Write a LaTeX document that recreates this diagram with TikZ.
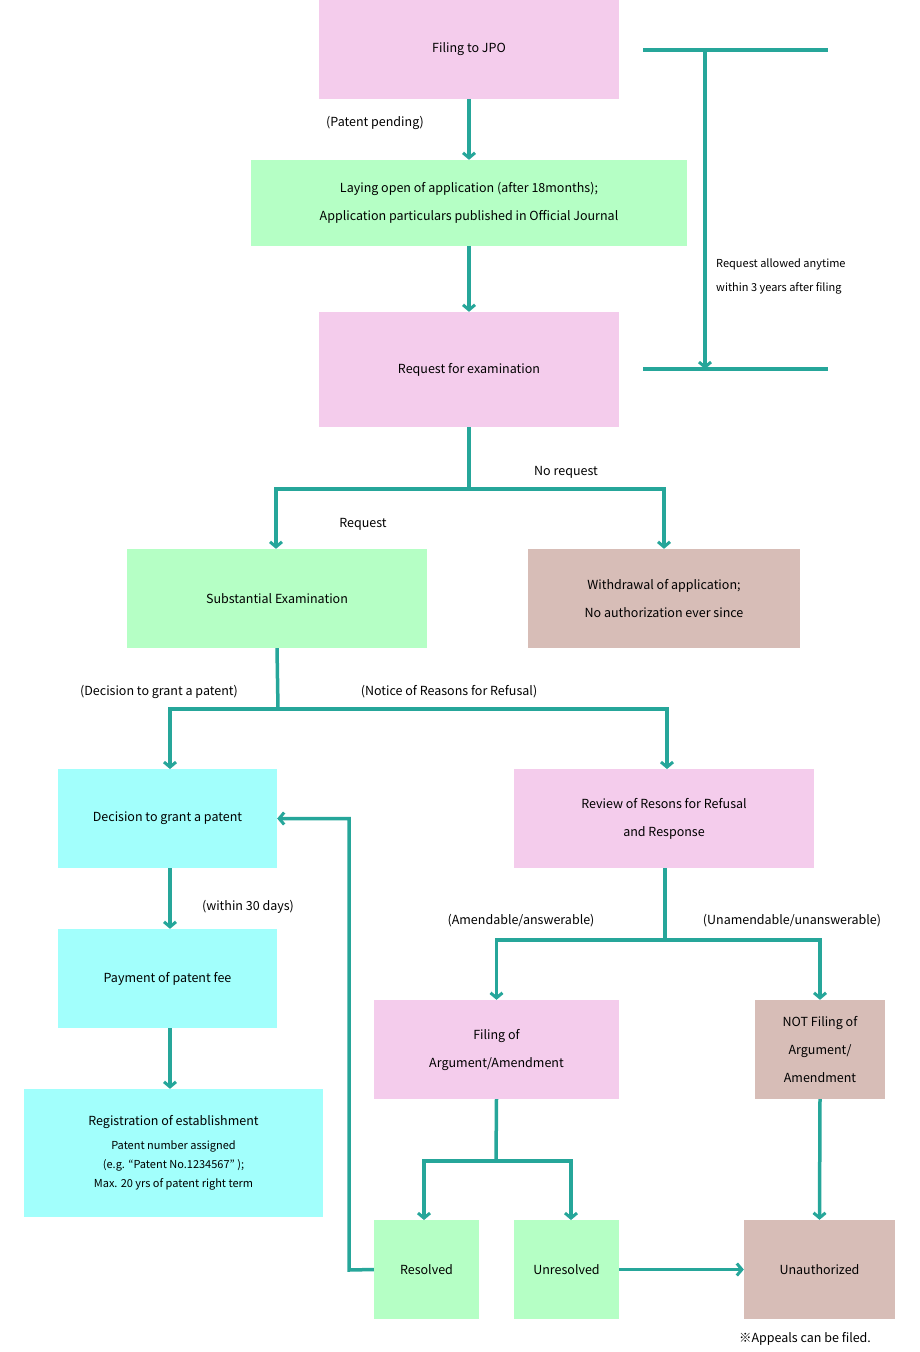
\documentclass[tikz,border=0pt]{standalone}
\usepackage{fontspec}
\setmainfont{Noto Sans CJK JP}
\usetikzlibrary{arrows.meta,positioning}
\definecolor{flowpink}{HTML}{F4CCEC}
\definecolor{flowgreen}{HTML}{B5FFC5}
\definecolor{flowcyan}{HTML}{A2FFFC}
\definecolor{flowbrown}{HTML}{D7BDB7}
\definecolor{flowline}{HTML}{26A69A}
\tikzset{
  box/.style={draw=none,inner sep=0pt,align=center,font=\fontsize{12.5}{28}\selectfont},
  lbl/.style={inner sep=0pt,font=\fontsize{12.5}{16}\selectfont},
  small/.style={inner sep=0pt,align=left,font=\fontsize{11}{24}\selectfont},
  flow/.style={draw=flowline,line width=3.5pt},
  arr/.style={flow,-{Straight Barb[length=5pt,width=12pt,line width=3pt]}}
}
\begin{document}
\begin{tikzpicture}[x=1pt,y=-1pt]
\useasboundingbox (0,0) rectangle (920,1352);

% boxes
\node[box,fill=flowpink,minimum width=300,minimum height=99] (jpo) at (469,49.5) {Filing to JPO};
\node[box,fill=flowgreen,minimum width=436,minimum height=86] (lay) at (469,203) {Laying open of application (after 18months);\\Application particulars published in Official Journal};
\node[box,fill=flowpink,minimum width=300,minimum height=115] (req) at (469,369.5) {Request for examination};
\node[box,fill=flowgreen,minimum width=300,minimum height=99] (sub) at (277,598.5) {Substantial Examination};
\node[box,fill=flowbrown,minimum width=272,minimum height=99] (wd) at (664,598.5) {Withdrawal of application;\\No authorization ever since};
\node[box,fill=flowcyan,minimum width=219,minimum height=99] (dec) at (167.5,818.5) {Decision to grant a patent};
\node[box,fill=flowpink,minimum width=300,minimum height=99] (rev) at (664,818.5) {Review of Resons for Refusal\\and Response};
\node[box,fill=flowcyan,minimum width=219,minimum height=99] (pay) at (167.5,978.5) {Payment of patent fee};
\node[box,fill=flowcyan,minimum width=299,minimum height=128] (reg) at (173.5,1153) {Registration of establishment\\[-4pt]{\fontsize{11}{20}\selectfont Patent number assigned}\\[-9pt]{\fontsize{11}{20}\selectfont (e.g. “Patent No.1234567” );}\\[-9pt]{\fontsize{11}{20}\selectfont Max. 20 yrs of patent right term}};
\node[box,fill=flowpink,minimum width=245,minimum height=99] (fil) at (496.5,1049.5) {Filing of\\Argument/Amendment};
\node[box,fill=flowbrown,minimum width=130,minimum height=99] (notf) at (820,1049.5) {NOT Filing of\\Argument/\\Amendment};
\node[box,fill=flowgreen,minimum width=105,minimum height=99] (res) at (426.5,1269.5) {Resolved};
\node[box,fill=flowgreen,minimum width=105,minimum height=99] (unres) at (566.5,1269.5) {Unresolved};
\node[box,fill=flowbrown,minimum width=151,minimum height=99] (unauth) at (819.5,1269.5) {Unauthorized};

% labels
\node[lbl] (pend) at (375,123) {(Patent pending)};
\node[small,anchor=west] (anytime) at (716,276) {Request allowed anytime\\within 3 years after filing};
\node[lbl] (noreq) at (566,472) {No request};
\node[lbl] (reqlbl) at (363,524) {Request};
\node[lbl] (grantlbl) at (159,692) {(Decision to grant a patent)};
\node[lbl] (noticelbl) at (449,692) {(Notice of Reasons for Refusal)};
\node[lbl] (dayslbl) at (248,907) {(within 30 days)};
\node[lbl] (amendlbl) at (521,921) {(Amendable/answerable)};
\node[lbl] (unamendlbl) at (792,921) {(Unamendable/unanswerable)};
\node[lbl] (appeal) at (805,1339) {※Appeals can be filed.};

% bracket
\coordinate (b1) at (643,50);
\coordinate (b2) at (828,50);
\coordinate (b3) at (643,369);
\coordinate (b4) at (828,369);
\draw[flow] (b1) -- (b2);
\draw[flow] (b3) -- (b4);
\draw[arr] (705,50) -- (705,369);

% connectors
\draw[arr] (jpo) -- (lay);
\draw[arr] (lay) -- (req);
\draw[flow] (req.south) -- (469,489);
\draw[arr] (469,489) -| (sub.north -| 276,0);
\draw[arr] (469,489) -| (wd.north);
\draw[flow] (sub.south) -- (278,709);
\draw[arr] (278,709) -| (170,769);
\draw[arr] (278,709) -| (667,769);
\draw[arr] (dec.south -| 170,0) -- (pay.north -| 170,0);
\draw[arr] (pay.south -| 170,0) -- (reg.north -| 170,0);
\draw[flow] (rev.south -| 665,0) -- (665,940);
\draw[arr] (665,940) -| (fil.north);
\draw[arr] (665,940) -| (notf.north);
\draw[flow] (fil.south) -- (496,1161);
\draw[arr] (496,1161) -| (424,1220);
\draw[arr] (496,1161) -| (571,1220);
\draw[arr] (res.west) -- (349,1270) |- (dec.east);
\draw[arr] (unres.east) -- (unauth.west);
\draw[arr] (notf.south) -- (unauth.north);
\end{tikzpicture}
\end{document}
